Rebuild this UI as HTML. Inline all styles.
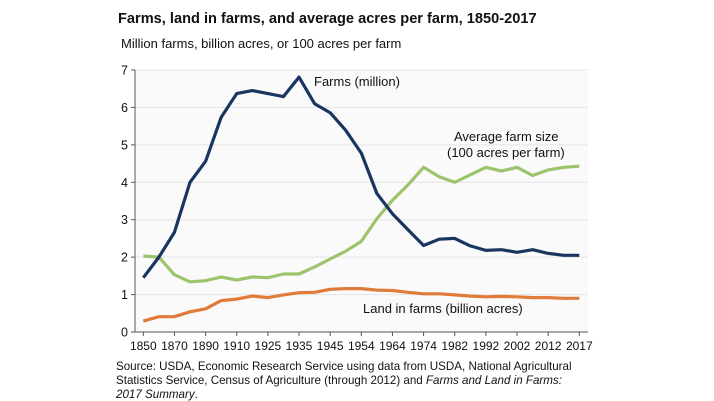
<!DOCTYPE html>
<html><head><meta charset="utf-8"><style>
body{margin:0;background:#fff;font-family:"Liberation Sans",Arial,sans-serif;}
svg{display:block}
</style></head><body>
<svg id="chart" width="714" height="401" viewBox="0 0 714 401" xmlns="http://www.w3.org/2000/svg">
<text x="118" y="23" font-size="14.6" font-weight="bold" fill="#111">Farms, land in farms, and average acres per farm, 1850-2017</text>
<text x="121" y="48" font-size="13" fill="#111">Million farms, billion acres, or 100 acres per farm</text>
<rect x="135" y="70" width="453" height="262" fill="#fafafa"/>
<g id="grid"></g><g id="axes"></g><g id="series"></g>
<text x="314" y="86" font-size="13" fill="#111">Farms (million)</text>
<text x="454" y="141" font-size="13" fill="#111">Average farm size</text>
<text x="447" y="157" font-size="13" fill="#111">(100 acres per farm)</text>
<text x="363" y="313" font-size="13" fill="#111">Land in farms (billion acres)</text>
<text font-size="11.6" fill="#111"><tspan x="116" y="370">Source: USDA, Economic Research Service using data from USDA, National Agricultural</tspan><tspan x="116" y="384">Statistics Service, Census of Agriculture (through 2012) and <tspan font-style="italic">Farms and Land in Farms:</tspan></tspan><tspan x="116" y="398" font-style="italic">2017 Summary</tspan><tspan>.</tspan></text>
</svg>
<script>
const years=["1850","1860","1870","1880","1890","1900","1910","1920","1925","1930","1935","1940","1945","1950","1954","1959","1964","1969","1974","1978","1982","1987","1992","1997","2002","2007","2012","","2017"];
const tickLabels=["1850","1870","1890","1910","1925","1935","1945","1954","1964","1974","1982","1992","2002","2012","2017"];
const farms=[1.45,2.0,2.66,4.0,4.56,5.74,6.37,6.45,6.37,6.29,6.81,6.1,5.86,5.39,4.78,3.7,3.16,2.73,2.31,2.48,2.5,2.3,2.18,2.2,2.13,2.2,2.1,2.05,2.05];
const avgSize=[2.03,2.0,1.53,1.34,1.37,1.47,1.39,1.47,1.45,1.55,1.55,1.74,1.95,2.16,2.42,3.03,3.52,3.93,4.4,4.15,4.0,4.2,4.4,4.3,4.4,4.18,4.33,4.4,4.43];
const land=[0.29,0.41,0.41,0.54,0.62,0.84,0.88,0.96,0.92,0.99,1.05,1.06,1.14,1.16,1.16,1.12,1.11,1.06,1.02,1.02,0.99,0.96,0.94,0.95,0.94,0.92,0.92,0.9,0.9];
const yTicks=[0,1,2,3,4,5,6,7];
const NS="http://www.w3.org/2000/svg";
const x=i=>143.3+i*(436/(years.length-1));
const y=v=>332-v*(262/7);
function mk(t,a,p){const e=document.createElementNS(NS,t);for(const k in a)e.setAttribute(k,a[k]);p.appendChild(e);return e;}
const grid=document.getElementById('grid'),axes=document.getElementById('axes'),series=document.getElementById('series');
yTicks.forEach(v=>{
  if(v>0){const g=mk('line',{x1:135,x2:588,y1:y(v),y2:y(v),stroke:'#e4e4e4','stroke-width':1},grid);
  
  }
  const tk=mk('line',{x1:131,x2:135,y1:y(v),y2:y(v),stroke:'#555'},axes);
  
  
  const t=mk('text',{x:128,y:y(v)+4.5,'text-anchor':'end','font-size':12.5,fill:'#111'},axes);t.textContent=v;
  
  
});
const ya=mk('line',{x1:135,x2:135,y1:70,y2:332,stroke:'#555'},axes);


const xa=mk('line',{x1:135,x2:588,y1:332,y2:332,stroke:'#555'},axes);


tickLabels.forEach(lb=>{
  const i=years.indexOf(lb);
  const tk=mk('line',{x1:x(i),x2:x(i),y1:332,y2:336,stroke:'#555'},axes);
  
  
  const t=mk('text',{x:x(i),y:350,'text-anchor':'middle','font-size':12,fill:'#111'},axes);t.textContent=lb;
  
  
});
function line(data,color,name){
  const d=data.map((v,i)=>(i?'L':'M')+x(i).toFixed(1)+','+y(v).toFixed(1)).join('');
  const p=mk('path',{d:d,fill:'none',stroke:color,'stroke-width':3.2,'stroke-linejoin':'round'},series);
  
  
}
line(land,'#e07b39','land-in-farms-line');
line(avgSize,'#9dc46b','avg-farm-size-line');
line(farms,'#1a3560','farms-line');
</script>
</body></html>
